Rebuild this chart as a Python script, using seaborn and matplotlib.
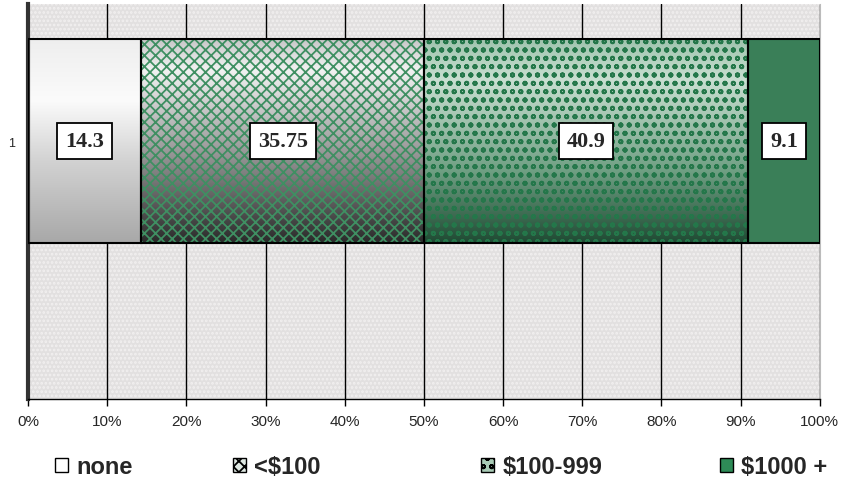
import numpy as np
import pandas as pd
import matplotlib.pyplot as plt
import seaborn as sns
from matplotlib import font_manager
from matplotlib.colors import to_rgb
from matplotlib.patches import Patch

# Dados do grafico (barra 100% empilhada)
categorias = ['none', '<$100', '$100-999', '$1000 +']
valores = [14.3, 35.75, 40.9, 9.1]
grupo = ['1']
ticks_x = [0, 10, 20, 30, 40, 50, 60, 70, 80, 90, 100]
rotulos_x = [f'{t}%' for t in ticks_x]

inicio = np.concatenate([[0], np.cumsum(valores)[:-1]])
df = pd.DataFrame({'grupo': grupo * len(categorias), 'categoria': categorias,
                   'valor': valores, 'inicio': inicio})

sns.set_style('white')
plt.rcParams['font.family'] = ['Liberation Sans', 'DejaVu Sans']
plt.rcParams['hatch.linewidth'] = 1.3

nomes = {f.name for f in font_manager.fontManager.ttflist}
fonte_estreita = 'Liberation Sans Narrow' if 'Liberation Sans Narrow' in nomes else 'Liberation Sans'

verde = '#2e8b57'
hachuras = [None, 'xxx', 'oo', None]
cores_hachura = [verde, '#3f8f62', '#24774a', verde]

# gradientes (so estilo)
grad_stops = [
    [(0, '#eeeeee'), (0.3, '#fbfbfb'), (0.6, '#d2d2d2'), (1, '#a8a8a8')],
    [(0, '#c8c8c8'), (0.15, '#f2f2f2'), (0.6, '#8e8e8e'), (1, '#2a2a2a')],
    [(0, '#9fc4ae'), (0.2, '#c9dfd1'), (0.65, '#6f9f83'), (1, '#1f4a33')],
    None,
]


def gradiente(stops, n=200):
    pos = [s[0] for s in stops]
    rgb = np.array([to_rgb(s[1]) for s in stops])
    t = np.linspace(0, 1, n)
    img = np.stack([np.interp(t, pos, rgb[:, i]) for i in range(3)], axis=-1)
    return img[:, None, :]


fig = plt.figure(figsize=(8.49, 4.89), dpi=100)
ax = fig.add_axes([0.033, 0.182, 0.933, 0.808])
ax.set_facecolor('#e2e0e0')
ax.patch.set_hatch('....')
ax.patch.set_edgecolor('#f2f0f0')

for i, row in df.iterrows():
    sns.barplot(data=df.iloc[[i]], x='valor', y='grupo', orient='h', ax=ax,
                left=row['inicio'], width=1.0, color=verde,
                edgecolor=cores_hachura[i], hatch=hachuras[i], linewidth=0, zorder=3)
    barra = ax.patches[-1]
    if grad_stops[i] is not None:
        barra.set_facecolor('none')
        ax.imshow(gradiente(grad_stops[i]), aspect='auto', zorder=2,
                  extent=[row['inicio'], row['inicio'] + row['valor'], 0.5, -0.5])

# contornos pretos
for i, row in df.iterrows():
    sns.barplot(data=df.iloc[[i]], x='valor', y='grupo', orient='h', ax=ax,
                left=row['inicio'], width=1.0, fill=False, color='black',
                linewidth=1.5, zorder=4)

# rotulos de dados
for i, row in df.iterrows():
    ax.text(row['inicio'] + row['valor'] / 2, 0, f"{row['valor']:g}",
            ha='center', va='center', fontsize=16, fontweight='bold',
            family=['Liberation Serif', 'DejaVu Serif'], zorder=6,
            bbox=dict(boxstyle='square,pad=0.35', facecolor='white',
                      edgecolor='black', linewidth=1.3))

ax.set_xlim(0, 100.05)
ax.set_ylim(1.27, -0.675)
ax.set_xticks(ticks_x)
ax.set_xticklabels(rotulos_x, family=fonte_estreita)
ax.set_xlabel('')
ax.set_ylabel('')
ax.xaxis.grid(True, color='black', linewidth=1)
ax.set_axisbelow(True)
ax.tick_params(axis='x', direction='out', length=5, width=1, color='black',
               labelsize=11, pad=6, bottom=True)
ax.tick_params(axis='y', length=0, labelsize=9, pad=9)

ax.spines['top'].set_visible(False)
ax.spines['left'].set_color('#333333')
ax.spines['left'].set_linewidth(3)
ax.spines['bottom'].set_color('black')
ax.spines['bottom'].set_linewidth(1)
ax.spines['right'].set_color('#bbbbbb')

# legenda
pos_leg = [55, 233, 481, 720]
cores_leg = ['white', '#dfe9e3', '#a9cbb6', verde]
for i, cat in enumerate(categorias):
    h = Patch(facecolor=cores_leg[i], edgecolor='black', hatch=hachuras[i], linewidth=1)
    fig.legend(handles=[h], labels=[cat], loc='center left', frameon=False,
               bbox_to_anchor=(pos_leg[i] / 849, 1 - 468 / 489),
               borderpad=0, borderaxespad=0, handlelength=0.55, handleheight=0.55,
               handletextpad=0.35,
               prop=dict(size=17, weight='bold', family=fonte_estreita))

fig.savefig('out.png', dpi=100)
